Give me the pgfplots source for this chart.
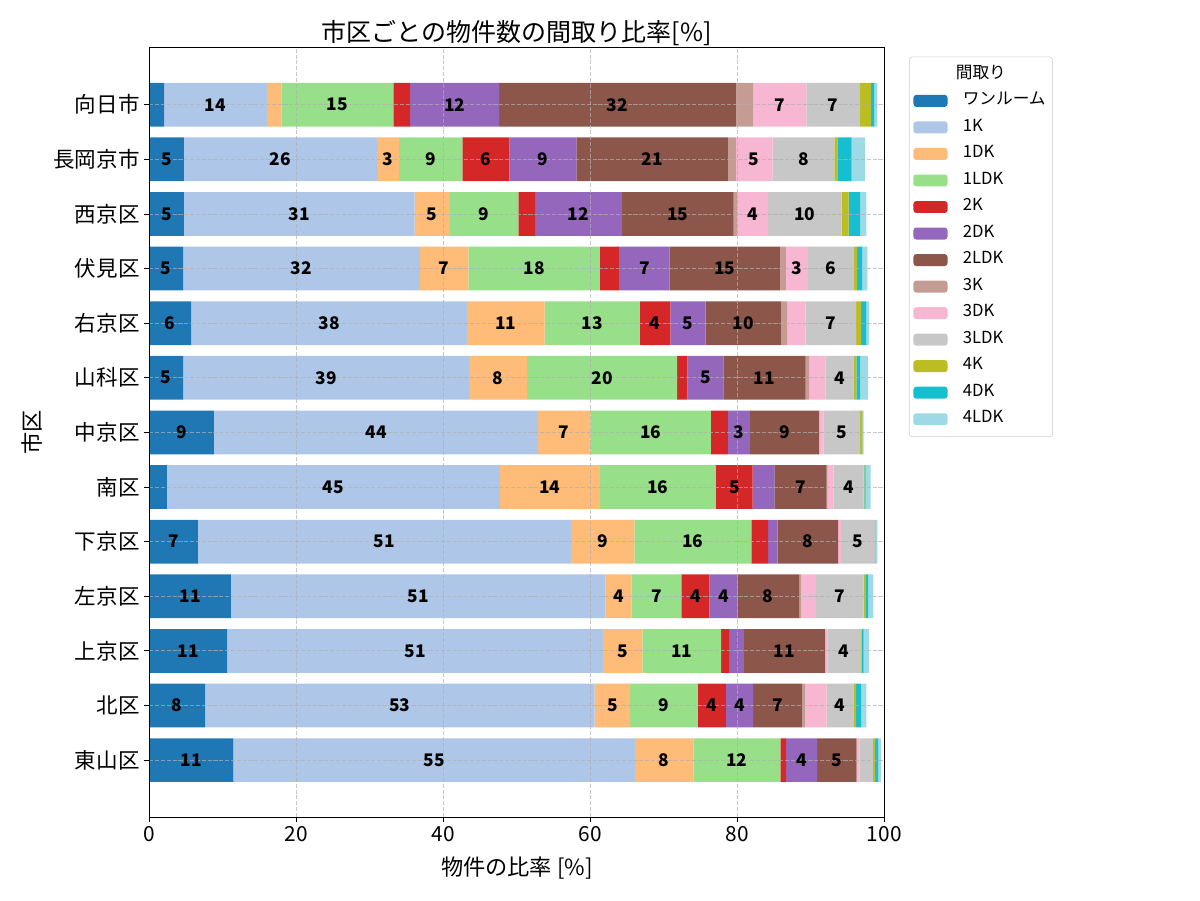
\documentclass[border=0pt]{standalone}
\usepackage{pgfplots}
\pgfplotsset{compat=1.18}
\usepackage{pgfplotstable}
\usepackage{fontspec}
\setmainfont{Noto Sans CJK JP}
\definecolor{c1}{HTML}{1F77B4}
\definecolor{c2}{HTML}{AEC7E8}
\definecolor{c3}{HTML}{FFBB78}
\definecolor{c4}{HTML}{98DF8A}
\definecolor{c5}{HTML}{D62728}
\definecolor{c6}{HTML}{9467BD}
\definecolor{c7}{HTML}{8C564B}
\definecolor{c8}{HTML}{C49C94}
\definecolor{c9}{HTML}{F7B6D2}
\definecolor{c10}{HTML}{C7C7C7}
\definecolor{c11}{HTML}{BCBD22}
\definecolor{c12}{HTML}{17BECF}
\definecolor{c13}{HTML}{9EDAE5}
\definecolor{gridc}{HTML}{B0B0B0}
% rows: 12 = 向日市 (top) ... 0 = 東山区 (bottom)
\pgfplotstableread{
pos R K1 DK1 LDK1 K2 DK2 LDK2 K3 DK3 LDK3 K4 DK4 LDK4
12 2.0 14.0 2.0 15.2 2.3 12.1 32.2 2.4 7.2 7.2 1.6 0.45 0.4
11 4.7 26.3 3.0 8.6 6.4 9.1 20.6 1.1 5.0 8.4 0.4 1.95 1.8
10 4.7 31.4 4.8 9.3 2.3 11.8 15.2 0.5 4.2 10.0 0.95 1.6 0.8
9 4.6 32.2 6.6 17.9 2.6 6.9 15.0 0.8 3.0 6.3 0.4 0.7 0.7
8 5.7 37.5 10.6 12.9 4.2 4.8 10.3 0.8 2.45 6.9 0.7 0.7 0.4
7 4.6 38.9 7.9 20.4 1.4 4.9 11.2 0.5 2.2 3.8 0.4 0.5 1.1
6 8.8 44.1 7.1 16.4 2.3 3.0 9.4 0.1 0.5 5.0 0.3 0.05 0.15
5 2.4 45.3 13.6 15.8 5.0 2.95 7.1 0.15 0.8 4.1 0.1 0.15 0.7
4 6.6 50.8 8.6 15.9 2.3 1.3 8.2 0.0 0.4 4.6 0.05 0.05 0.25
3 11.1 51.0 3.5 6.8 3.8 3.8 8.4 0.3 2.0 6.5 0.3 0.3 0.7
2 10.6 51.1 5.4 10.7 1.1 2.0 11.0 0.1 0.3 4.45 0.15 0.3 0.7
1 7.6 53.0 4.8 9.25 3.8 3.7 6.7 0.4 2.9 3.7 0.3 0.7 0.7
0 11.45 54.6 8.0 11.8 0.8 4.2 5.3 0.1 0.4 1.8 0.3 0.4 0.4
}\data
\pgfplotsset{
  seg/.style={
    fill=#1, draw=none,
    visualization depends on={rawx \as \myval},
    nodes near coords={\pgfmathtruncatemacro\ok{\myval>=2.99}\ifnum\ok=1 \pgfmathprintnumber[fixed,precision=0]{\myval}\fi},
    every node near coord/.style={anchor=center, font=\bfseries\fontsize{12.5}{15}\selectfont, text=black, inner sep=0pt},
  }
}
\begin{document}
\begin{tikzpicture}
\useasboundingbox (-107.5pt,-59.8pt) rectangle (756.5pt,588.2pt);
\begin{axis}[
  at={(0,0)}, anchor=south west,
  scale only axis, width=529.2pt, height=553.7pt,
  xbar stacked, bar width=0.8,
  xmin=0, xmax=100, ymin=-1.04, ymax=13.04,
  xtick={0,20,40,60,80,100},
  ytick={0,...,12},
  yticklabels={東山区,北区,上京区,左京区,下京区,南区,中京区,山科区,右京区,伏見区,西京区,長岡京市,向日市},
  /pgf/number format/assume math mode=true,
  xtick pos=left, ytick pos=left,
  tick align=outside, major tick length=3.5pt,
  tick style={black, line width=0.6pt},
  axis line style={line width=0.6pt},
  axis on top,
  grid=major,
  major grid style={gridc, opacity=0.7, line width=0.6pt, dash pattern=on 2.9pt off 1.3pt},
  xticklabel style={font=\fontsize{15}{18}\selectfont},
  yticklabel style={font=\fontsize{15.5}{18}\selectfont},
  title={市区ごとの物件数の間取り比率[\%]},
  title style={font=\fontsize{18}{22}\selectfont, at={(axis description cs:0.5,1)}, anchor=center, yshift=4.5pt},
  xlabel={物件の比率 [\%]},
  xlabel style={font=\fontsize{16}{19}\selectfont, at={(axis description cs:0.5,-0.066)}, anchor=center},
  ylabel={市区},
  ylabel style={font=\fontsize{16}{19}\selectfont, at={(axis description cs:-0.16,0.5)}, anchor=center},
  legend image code/.code={\fill[#1] (0pt,-4.3pt) rectangle (24.5pt,4.3pt);},
  legend cell align=left,
  legend style={at={(axis description cs:1,1)}, anchor=north west, xshift=17.8pt, yshift=-6.3pt,
    font=\fontsize{12}{14}\selectfont, draw=black!20, rounded corners=2pt, fill=white,
    inner xsep=3pt, inner ysep=3pt, row sep=0pt,
    /tikz/every odd column/.append style={column sep=9pt},
    nodes={text height=8.7pt, text depth=3.3pt, inner ysep=3.55pt}},
]
\addlegendimage{empty legend}
\addlegendentry{\hspace*{-5pt}間取り}
\addplot[seg=c1] table[x=R, y=pos] {\data};
\addlegendentry{ワンルーム}
\addplot[seg=c2] table[x=K1, y=pos] {\data};
\addlegendentry{1K}
\addplot[seg=c3] table[x=DK1, y=pos] {\data};
\addlegendentry{1DK}
\addplot[seg=c4] table[x=LDK1, y=pos] {\data};
\addlegendentry{1LDK}
\addplot[seg=c5] table[x=K2, y=pos] {\data};
\addlegendentry{2K}
\addplot[seg=c6] table[x=DK2, y=pos] {\data};
\addlegendentry{2DK}
\addplot[seg=c7] table[x=LDK2, y=pos] {\data};
\addlegendentry{2LDK}
\addplot[seg=c8] table[x=K3, y=pos] {\data};
\addlegendentry{3K}
\addplot[seg=c9] table[x=DK3, y=pos] {\data};
\addlegendentry{3DK}
\addplot[seg=c10] table[x=LDK3, y=pos] {\data};
\addlegendentry{3LDK}
\addplot[seg=c11] table[x=K4, y=pos] {\data};
\addlegendentry{4K}
\addplot[seg=c12] table[x=DK4, y=pos] {\data};
\addlegendentry{4DK}
\addplot[seg=c13] table[x=LDK4, y=pos] {\data};
\addlegendentry{4LDK}
\end{axis}
\end{tikzpicture}
\end{document}
